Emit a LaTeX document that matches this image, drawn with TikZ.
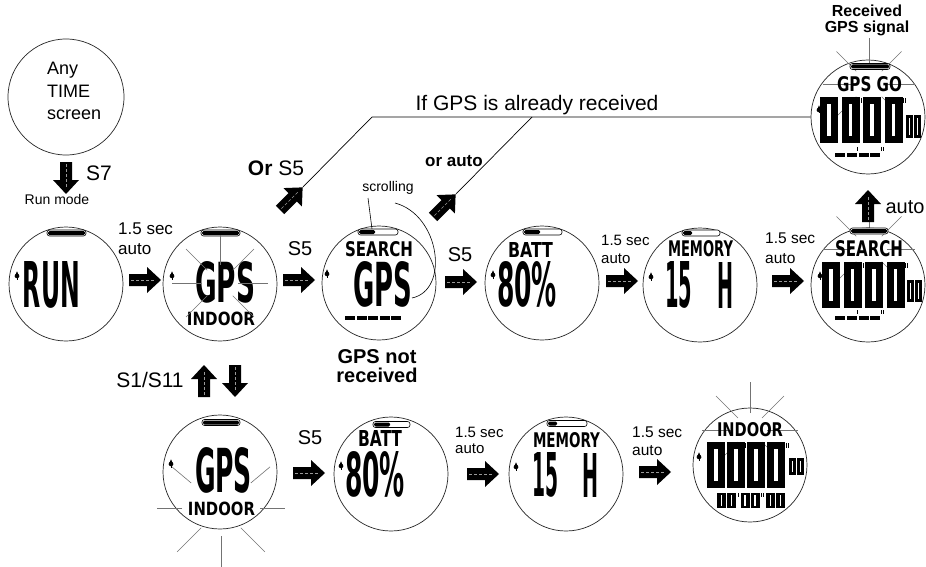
\documentclass[tikz,border=0pt]{standalone}
\usepackage{fontspec}
\setmainfont{Liberation Sans}
\newfontfamily\lcdfont{DejaVu Sans}
\usepackage{graphicx}
\newcommand{\fsz}[2]{\fontsize{#1}{#2}\selectfont}
\newcommand{\lcd}[5]{\node[inner sep=0pt] (#1) at (#2) {\resizebox{#3pt}{#4pt}{\lcdfont\bfseries #5}};}
\newcommand{\zd}[4]{\fill (#1,#2) rectangle ++(#3,#4); \fill[white] ({#1+0.4*#3},{#2+0.15*#4}) rectangle ({#1+0.6*#3},{#2+0.85*#4});}
\newcommand{\wbar}[4]{\draw[line width=0.6pt,fill=white,rounded corners=2.5pt] (#1,{#3-3}) rectangle (#2,{#3+3}); \fill[rounded corners=1.5pt] ({#1+1},{#3-2}) rectangle (#4,{#3+2});}
\newcommand{\spd}[2]{\fill (#1,#2) circle (2.3); \fill ({#1-2.3},{#2+0.3}) -- (#1,{#2-4.6}) -- ({#1+2.3},{#2+0.3}) -- cycle; \draw[line width=0.6pt] (#1,#2) -- (#1,{#2+3.5});}
\newcommand{\tk}[3]{\draw[line width=0.9pt] (#1,#2) -- ++(0,#3);}
\newcommand{\dtk}[3]{\tk{#1}{#2}{#3}\tk{#1+2.2}{#2}{#3}}
\newcommand{\rays}[5]{\foreach \a in {#3} \draw[ray] (#1,#2) ++(\a:#4) -- ++(\a:{#5-#4});}
\newcommand{\dashrow}[2]{\fill (#1,#2) rectangle ++(10,4); \fill ({#1+11.5},#2) rectangle ++(10,4); \fill ({#1+23.5},#2) rectangle ++(10,4); \fill ({#1+35},#2) rectangle ++(10,4); \tk{#1+22.5}{#2-6}{4} \dtk{#1+46}{#2-6}{4}}
\tikzset{
  barrow/.pic={\fill (0,-6) -- (18,-6) -- (18,-13) -- (32,0) -- (18,13) -- (18,6) -- (0,6) -- cycle;
    \draw[black!40, line width=0.6pt, dash pattern=on 3pt off 2pt] (2,0) -- (25,0);},
  watch/.style={circle, draw=black!85, line width=0.7pt, minimum size=114pt, inner sep=0pt},
  ray/.style={black!55, line width=0.6pt},
  conn/.style={line width=0.7pt},
  t/.style={inner sep=0pt}
}
\begin{document}
\begin{tikzpicture}[x=1pt,y=-1pt]
\fill[white] (0,0) rectangle (926,567);
\useasboundingbox (0,0) rectangle (926,567);

% ---------- Any TIME screen
\node[watch, minimum size=116pt] (time) at (66,97) {};
\node[t, anchor=north west, align=left, font=\fsz{18}{22.5}] (timetxt) at (47,62) {Any\\TIME\\screen};
\pic[rotate=-90] at (66,162) {barrow};
\node[t, font=\fsz{21}{21}] (s7) at (99,173) {S7};
\node[t, font=\fsz{14}{14}] (runmode) at (57,199) {Run mode};

% ---------- RUN
\node[watch] (run) at (66,284) {};
\wbar{47}{86}{233}{85}
\spd{17}{276}
\lcd{runtxt}{51.5,285}{57}{46}{RUN}
\node[t, anchor=north west, align=left, font=\fsz{17}{20}] (l1) at (118,223) {1.5 sec\\auto};
\pic at (129,280) {barrow};

% ---------- GPS INDOOR (top)
\node[watch] (gps1) at (220,284) {};
\wbar{201}{240}{233}{239}
\spd{172}{276}
\lcd{gps1a}{225,282.5}{60}{41}{GPS}
\lcd{gps1b}{221,319}{68}{13.5}{INDOOR}
\rays{220}{283}{0,315,270,225,180,135,45}{18}{48}
\node[t, font=\fsz{20}{20}] (l2) at (300,249) {S5};
\pic at (283,280) {barrow};

% ---------- Or S5 / If GPS is already received
\node[t, font=\fsz{21}{21}] (ors5) at (276,168) {\textbf{Or} S5};
\pic[rotate=45] at (280,210) {barrow};
\coordinate (ortip) at (302.6,187.4);
\coordinate (bend1) at (372,117);
\node[watch] (gpsgo) at (868,117) {};
\draw[conn] (ortip) -- (bend1) -- (gpsgo.west);
\node[t, font=\fsz{21}{21}] (ifgps) at (537,105) {If GPS is already received};
\node[t, font=\fsz{17}{17}\bfseries] (orauto) at (454,161) {or auto};
\pic[rotate=45] at (433,217) {barrow};
\coordinate (oatip) at (455.6,194.4);
\coordinate (bend2) at (532,117);
\draw[conn] (oatip) -- (bend2);

% ---------- SEARCH GPS
\node[watch] (search) at (379,283) {};
\wbar{358}{398}{232}{375}
\spd{327}{274}
\lcd{s1}{379,249.5}{68}{15}{SEARCH}
\lcd{s2}{382.5,284.5}{59}{45}{GPS}
\foreach \xx in {345,356.5,368,379.5,391} \fill (\xx,316) rectangle ++(10,4);
\node[t, font=\fsz{14}{14}] (scrl) at (388,188) {scrolling};
\coordinate (sc1) at (368,198);
\coordinate (sc2) at (372,229);
\draw[line width=0.6pt] (sc1) -- (sc2);
\coordinate (sc3) at (395,203);
\coordinate (sc4) at (412,298);
\draw[line width=0.6pt] (sc3) .. controls (440,215) and (450,290) .. (sc4);
\node[t, align=center, font=\fsz{20}{18.5}\bfseries] (notrec) at (377,366) {GPS not\\received};
\node[t, font=\fsz{20}{20}] (l3) at (460,255) {S5};
\pic at (445,282) {barrow};

% ---------- BATT
\node[watch] (batt) at (542,283) {};
\wbar{523}{562}{232}{540}
\spd{493}{275}
\lcd{b1}{530.5,249.5}{45}{15}{BATT}
\lcd{b2}{527,284.5}{60}{45}{80\%}
\node[t, anchor=north west, align=left, font=\fsz{15}{17.5}] (l4) at (601,235) {1.5 sec\\auto};
\pic at (606,281) {barrow};

% ---------- MEMORY
\node[watch] (mem) at (700,285) {};
\wbar{682}{720}{233}{692}
\spd{651}{277}
\lcd{m1}{700.5,248.5}{65}{16}{MEMORY}
\lcd{m2}{678.5,285}{27}{46}{15}
\lcd{m3}{725,285}{16}{46}{H}
\node[t, anchor=north west, align=left, font=\fsz{15.5}{20}] (l5) at (765,233) {1.5 sec\\auto};
\pic at (772,281) {barrow};

% ---------- SEARCH 0000
\node[watch] (srch0) at (868,285) {};
\rays{869}{249}{0,315,270,225,180,135,45}{18}{46}
\wbar{850}{888}{231}{887}
\spd{820}{276}
\lcd{z1}{869,248.5}{68}{16}{SEARCH}
\zd{822}{262}{18}{46}\zd{843.5}{262}{18}{46}\zd{865}{262}{18}{46}\zd{886.5}{262}{18}{46}
\tk{863.3}{263}{5}\dtk{905.5}{263}{5}
\zd{907}{280}{7}{22}\zd{915}{280}{7}{22}
\dashrow{835}{316}
\pic[rotate=90] at (868,222) {barrow};
\node[t, font=\fsz{20}{20}] (auto1) at (905,207) {auto};

% ---------- GPS GO
\rays{869}{84}{0,315,270,225,180,135,45}{18}{46}
\wbar{850}{890}{66.5}{889}
\spd{819}{110}
\lcd{g1}{869.5,84.5}{65}{15}{GPS GO}
\zd{820}{97}{18}{46}\zd{841.5}{97}{18}{46}\zd{863}{97}{18}{46}\zd{884.5}{97}{18}{46}
\tk{861.3}{98}{5}\dtk{903.5}{98}{5}
\zd{906}{115}{7}{23}\zd{914}{115}{7}{23}
\dashrow{835}{153}
\node[t, align=center, font=\fsz{16}{16}\bfseries] (recv) at (867,20) {Received\\GPS signal};

% ---------- S1/S11
\node[t, font=\fsz{21}{21}] (s1s11) at (150,380) {S1/S11};
\pic[rotate=90] at (204,397) {barrow};
\pic[rotate=-90] at (235,365) {barrow};

% ---------- GPS INDOOR (bottom)
\node[watch] (gps2) at (220,472) {};
\rays{221}{508}{0,320,220,180}{39}{64}
\rays{221}{508}{135,90,45}{28}{62}
\wbar{202}{240}{422.5}{239}
\spd{171}{464}
\lcd{h1}{223.5,470.5}{57}{45}{GPS}
\lcd{h2}{221.5,508.5}{67}{13.5}{INDOOR}
\node[t, font=\fsz{20}{20}] (l6) at (310,438) {S5};
\pic at (293,473) {barrow};

% ---------- BATT (bottom)
\node[watch] (batt2) at (391,474) {};
\wbar{373}{410}{424.5}{390}
\spd{341}{466}
\lcd{c1}{380,438.5}{44}{16}{BATT}
\lcd{c2}{375,474.5}{60}{45}{80\%}
\node[t, anchor=north west, align=left, font=\fsz{15}{15.5}] (l7) at (455,427) {1.5 sec\\auto};
\pic at (467,474) {barrow};

% ---------- MEMORY (bottom)
\node[watch] (mem2) at (566,474) {};
\wbar{547}{587}{423.5}{557}
\spd{516}{467}
\lcd{d1}{566.5,440.5}{67}{15}{MEMORY}
\lcd{d2}{545,475}{26}{44}{15}
\lcd{d3}{590,475}{16}{44}{H}
\node[t, anchor=north west, align=left, font=\fsz{15.5}{18}] (l8) at (632,427) {1.5 sec\\auto};
\pic at (639,472) {barrow};

% ---------- INDOOR 0000
\node[watch] (indoor) at (750,465) {};
\rays{750}{430}{0,315,270,225,180,135,45}{17}{48}
\spd{699}{457}
\lcd{e1}{750,430}{66}{14}{INDOOR}
\zd{707}{442}{18}{46}\zd{727}{442}{18}{46}\zd{747}{442}{18}{46}\zd{767}{442}{18}{46}
\tk{745.8}{443}{5}\dtk{786.5}{443}{5}
\zd{789}{458}{7}{17}\zd{797}{458}{7}{17}
\zd{717}{493}{9}{15}\zd{727}{493}{9}{15}\tk{738}{493}{4}
\zd{740.5}{493}{9}{15}\zd{750.5}{493}{9}{15}\dtk{761.5}{493}{4}
\zd{766}{493}{9}{15}\zd{776}{493}{9}{15}
\end{tikzpicture}
\end{document}
